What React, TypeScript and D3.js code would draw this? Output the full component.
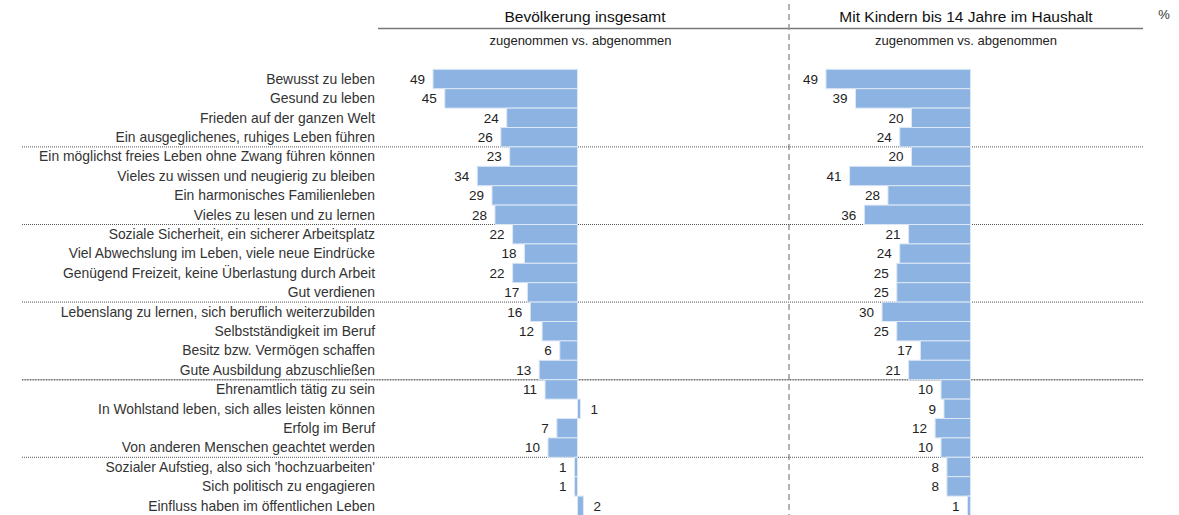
import React from "react";
import * as d3 from "d3";

const categories = [
  "Bewusst zu leben",
  "Gesund zu leben",
  "Frieden auf der ganzen Welt",
  "Ein ausgeglichenes, ruhiges Leben führen",
  "Ein möglichst freies Leben ohne Zwang führen können",
  "Vieles zu wissen und neugierig zu bleiben",
  "Ein harmonisches Familienleben",
  "Vieles zu lesen und zu lernen",
  "Soziale Sicherheit, ein sicherer Arbeitsplatz",
  "Viel Abwechslung im Leben, viele neue Eindrücke",
  "Genügend Freizeit, keine Überlastung durch Arbeit",
  "Gut verdienen",
  "Lebenslang zu lernen, sich beruflich weiterzubilden",
  "Selbstständigkeit im Beruf",
  "Besitz bzw. Vermögen schaffen",
  "Gute Ausbildung abzuschließen",
  "Ehrenamtlich tätig zu sein",
  "In Wohlstand leben, sich alles leisten können",
  "Erfolg im Beruf",
  "Von anderen Menschen geachtet werden",
  "Sozialer Aufstieg, also sich 'hochzuarbeiten'",
  "Sich politisch zu engagieren",
  "Einfluss haben im öffentlichen Leben",
];

// positive = zugenommen (bar to the left), negative = abgenommen (bar to the right)
const gesamt = [49, 45, 24, 26, 23, 34, 29, 28, 22, 18, 22, 17, 16, 12, 6, 13, 11, -1, 7, 10, 1, 1, -2];
const kinder = [49, 39, 20, 24, 20, 41, 28, 36, 21, 24, 25, 25, 30, 25, 17, 21, 10, 9, 12, 10, 8, 8, 1];

const panelTitles = ["Bevölkerung insgesamt", "Mit Kindern bis 14 Jahre im Haushalt"];
const subTitle = "zugenommen vs. abgenommen";
const separatorsAfter = [3, 7, 11, 15, 19];
const strongSeparator = 15;

export default function App() {
  const W = 1179;
  const H = 515;
  const font = "Liberation Sans, Arial, sans-serif";

  const y = d3
    .scaleBand<string>()
    .domain(categories)
    .range([69.3, 69.3 + 19.4 * categories.length])
    .padding(0);

  const panels = [
    { data: gesamt, x: d3.scaleLinear().domain([0, 49]).range([577.5, 433]), left: 378, right: 789 },
    { data: kinder, x: d3.scaleLinear().domain([0, 49]).range([970.5, 826]), left: 789, right: 1143 },
  ];

  return (
    <svg width={W} height={H} style={{ position: "absolute", left: 0, top: 0 }} fontFamily={font}>
      <rect x={0} y={0} width={W} height={H} fill="#fff" />
      {/* header line */}
      <line x1={378} x2={1143} y1={28.5} y2={28.5} stroke="#777" strokeWidth={1.5} />
      {/* vertical dashed divider */}
      <line x1={789} x2={789} y1={4} y2={H} stroke="#999" strokeWidth={1.5} strokeDasharray="6,4" />
      {panels.map((p, i) => (
        <g key={"h" + i}>
          <text x={(p.left + p.right) / 2 + (i === 0 ? 1.5 : 0)} y={21.5} textAnchor="middle" fontSize={15.5} fill="#111">
            {panelTitles[i]}
          </text>
          <text x={(p.left + p.right) / 2 - (i === 0 ? 3 : 0)} y={44.5} textAnchor="middle" fontSize={13} fill="#222">
            {subTitle}
          </text>
        </g>
      ))}
      <text x={1164} y={19} textAnchor="middle" fontSize={13} fill="#333">%</text>

      {/* separators */}
      {separatorsAfter.map((s) => {
        const yy = (y(categories[s]) as number) + y.bandwidth();
        const strong = s === strongSeparator;
        return (
          <line
            key={"s" + s}
            x1={22}
            x2={1143}
            y1={yy}
            y2={yy}
            stroke={strong ? "#666" : "#555"}
            strokeWidth={strong ? 1.6 : 1}
            strokeDasharray={strong ? "1,0.6" : "1,1"}
          />
        );
      })}

      {/* category labels */}
      {categories.map((c) => (
        <text
          key={c}
          x={375}
          y={(y(c) as number) + y.bandwidth() / 2}
          dy="0.35em"
          textAnchor="end"
          fontSize={13.9}
          fill="#333"
        >
          {c}
        </text>
      ))}

      {/* bars */}
      {panels.map((p, i) => (
        <g key={"p" + i}>
          {categories.map((c, j) => {
            const v = p.data[j];
            const x0 = p.x(0);
            const x1 = p.x(v);
            const bx = Math.min(x0, x1);
            const bw = Math.abs(x1 - x0);
            const top = y(c) as number;
            const cy = top + y.bandwidth() / 2;
            return (
              <g key={c}>
                <rect
                  x={bx}
                  y={top}
                  width={bw}
                  height={y.bandwidth()}
                  fill="#8DB3E2"
                  stroke="#DCE8F6"
                  strokeWidth={1}
                />
                <text
                  x={v >= 0 ? x1 - 8 : x1 + 10}
                  y={cy}
                  dy="0.35em"
                  textAnchor={v >= 0 ? "end" : "start"}
                  fontSize={13.5}
                  fill="#222"
                >
                  {Math.abs(v)}
                </text>
              </g>
            );
          })}
        </g>
      ))}
    </svg>
  );
}
